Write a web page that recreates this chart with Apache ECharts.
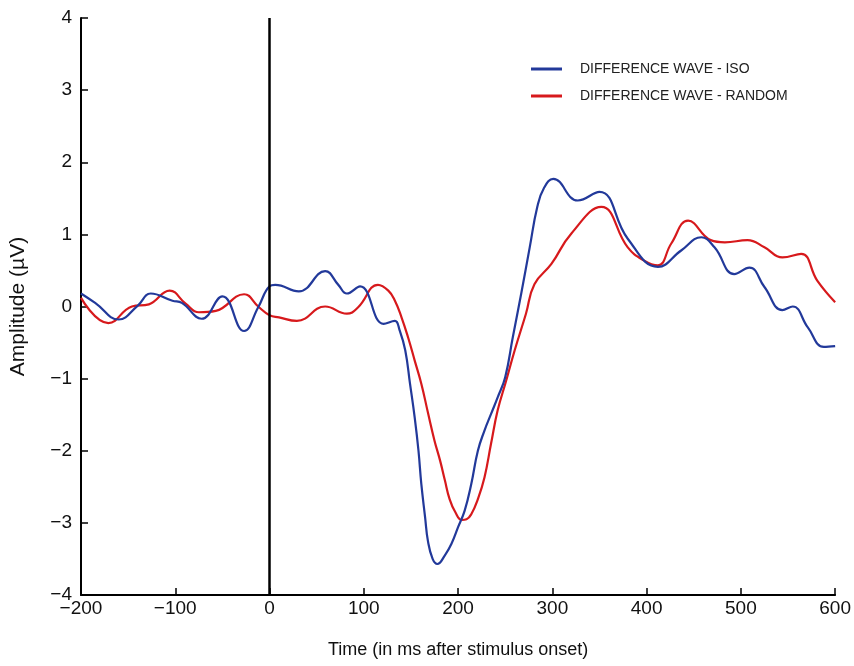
<!DOCTYPE html>
<html>
<head>
<meta charset="utf-8">
<script src="https://cdn.jsdelivr.net/npm/echarts@6/dist/echarts.min.js"></script>
<style>
  html, body {margin: 0; padding: 0; background: #fff;}
  #main {width: 854px; height: 666px;}
</style>
</head>
<body>
<div id="main"></div>
<script>
// 读图得到的数据 (ms, µV)
const isoTime = [-200, -185, -160, -140, -126, -103, -93, -72, -50, -27, -12, 0, 6, 31, 59, 73, 82, 96, 121, 133, 138, 144, 149, 154, 158, 161, 165, 168, 173, 178, 186, 193, 200, 207, 214, 221, 228, 235, 242, 250, 258, 267, 276, 284, 291, 301, 327, 350, 380, 412, 437, 458, 472, 493, 509, 525, 544, 555, 571, 588, 600];
const isoAmp = [0.18, 0.05, -0.18, 0.01, 0.18, 0.08, 0.05, -0.17, 0.14, -0.34, -0.01, 0.28, 0.30, 0.21, 0.49, 0.30, 0.18, 0.28, -0.24, -0.20, -0.33, -0.61, -1.07, -1.54, -2.00, -2.46, -2.92, -3.25, -3.50, -3.57, -3.45, -3.29, -3.06, -2.83, -2.46, -2.00, -1.72, -1.49, -1.26, -0.98, -0.43, 0.18, 0.82, 1.38, 1.64, 1.77, 1.47, 1.59, 0.94, 0.55, 0.78, 0.96, 0.82, 0.45, 0.54, 0.27, -0.05, 0.00, -0.29, -0.56, -0.55];

const randTime = [-200, -171, -146, -128, -106, -89, -75, -57, -27, -12, 0, 10, 29, 59, 82, 94, 115, 126, 133, 140, 147, 154, 161, 168, 175, 181, 186, 191, 197, 204, 209, 214, 221, 228, 235, 242, 251, 260, 272, 281, 299, 320, 352, 380, 397, 412, 426, 444, 468, 483, 507, 525, 544, 564, 581, 600];
const randAmp = [0.12, -0.23, 0.00, 0.03, 0.22, 0.04, -0.08, -0.06, 0.17, 0.00, -0.12, -0.15, -0.20, 0.00, -0.10, -0.01, 0.30, 0.22, 0.08, -0.15, -0.43, -0.75, -1.07, -1.47, -1.86, -2.14, -2.41, -2.67, -2.85, -2.96, -2.95, -2.88, -2.67, -2.37, -1.90, -1.44, -1.03, -0.61, -0.10, 0.31, 0.59, 1.01, 1.38, 0.82, 0.64, 0.57, 0.87, 1.19, 0.92, 0.89, 0.92, 0.82, 0.68, 0.73, 0.36, 0.06];

const seriesNames = ['DIFFERENCE WAVE - ISO', 'DIFFERENCE WAVE - RANDOM'];
const seriesColors = ['#22399a', '#d7191c'];
const onsetTime = 0;

const fontFamily = "'Liberation Sans', Arial, sans-serif";

function zip(xs, ys) {
  return xs.map((x, i) => [x, ys[i]]);
}

function minusSign(v) {
  return String(v).replace('-', '\u2212');
}

let chart = echarts.init(document.getElementById('main'));

chart.setOption({
  backgroundColor: '#fff',
  animation: false,
  grid: {
    left: 81,
    right: 17,
    top: 18,
    bottom: 71
  },
  legend: {
    orient: 'vertical',
    left: 531,
    top: 62,
    padding: 0,
    itemWidth: 31,
    itemHeight: 3,
    itemGap: 13,
    icon: 'rect',
    data: seriesNames,
    textStyle: {
      fontFamily: fontFamily,
      fontSize: 14,
      color: '#222',
      padding: [0, 0, 0, 13]
    }
  },
  xAxis: {
    type: 'value',
    min: -200,
    max: 600,
    interval: 100,
    name: 'Time (in ms after stimulus onset)',
    nameLocation: 'middle',
    nameGap: 46,
    nameTextStyle: {
      fontFamily: fontFamily,
      fontSize: 18,
      color: '#111'
    },
    axisLine: {onZero: false, lineStyle: {color: '#000', width: 2}},
    axisTick: {inside: true, length: 7, lineStyle: {color: '#000', width: 1.5}},
    axisLabel: {
      fontFamily: fontFamily,
      fontSize: 19,
      color: '#111',
      margin: 4,
      formatter: minusSign
    },
    splitLine: {show: false}
  },
  yAxis: {
    type: 'value',
    min: -4,
    max: 4,
    interval: 1,
    name: 'Amplitude (µV)',
    nameLocation: 'middle',
    nameGap: 52,
    nameTextStyle: {
      fontFamily: fontFamily,
      fontSize: 21,
      color: '#111'
    },
    axisLine: {onZero: false, lineStyle: {color: '#000', width: 2}},
    axisTick: {inside: true, length: 7, lineStyle: {color: '#000', width: 1.5}},
    axisLabel: {
      fontFamily: fontFamily,
      fontSize: 19,
      color: '#111',
      margin: 9,
      formatter: minusSign
    },
    splitLine: {show: false}
  },
  series: [
    {
      name: seriesNames[0],
      type: 'line',
      data: zip(isoTime, isoAmp),
      smooth: 0.45,
      showSymbol: false,
      color: seriesColors[0],
      lineStyle: {width: 2.2},
      z: 3,
      markLine: {
        silent: true,
        symbol: 'none',
        label: {show: false},
        lineStyle: {color: '#000', width: 2.5, type: 'solid'},
        data: [{xAxis: onsetTime}]
      }
    },
    {
      name: seriesNames[1],
      type: 'line',
      data: zip(randTime, randAmp),
      smooth: 0.45,
      showSymbol: false,
      color: seriesColors[1],
      lineStyle: {width: 2.2},
      z: 2
    }
  ]
});
</script>
</body>
</html>
